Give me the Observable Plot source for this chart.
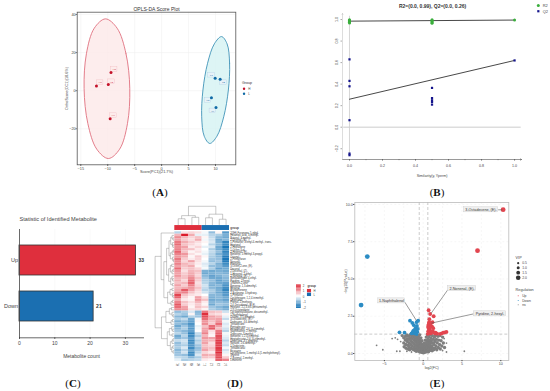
<!DOCTYPE html>
<html><head><meta charset="utf-8">
<script src="https://cdn.jsdelivr.net/npm/d3@7"></script>
<script src="https://cdn.jsdelivr.net/npm/@observablehq/plot@0.6"></script>
<style>
html,body{margin:0;padding:0;background:#fff;}
#fig{position:relative;width:550px;height:391px;overflow:hidden;font-family:"Liberation Sans",sans-serif;}
#fig svg{position:absolute;overflow:visible;}
.cap{position:absolute;font:11px "Liberation Serif",serif;transform:translate(-50%,-50%);color:#111;white-space:nowrap;}
.cap b{font-weight:700;}
</style></head><body><div id="fig"></div>
<script>
// ---------- Panel A: OPLS-DA ----------
const scoreH = [[-12.1,2.5,"H1"],[-9.9,3.2,"H2"],[-9.4,9.5,"H3"],[-9.55,-14.7,"H4"]];
const scoreL = [[9.94,6.5,"L1"],[10.87,6,"L2"],[9.25,-3.7,"L3"],[10.1,-8.8,"L4"]];
const labelPosH = [[-11.4,4.2],[-9.3,4.7],[-8.8,11.1],[-8.95,-13.1]];
const labelPosL = [[9.25,8.1],[11.5,4.2],[8.6,-5.1],[9.5,-10.6]];
const ellipseH = [[-5.91,1.05],[-6.61,19.4],[-8.26,32.8],[-10.42,37.7],[-12.5,32.8],[-13.96,19.4],[-14.39,1.05],[-13.69,-17.3],[-12.04,-30.7],[-9.88,-35.6],[-7.8,-30.7],[-6.34,-17.3]];
const ellipseL = [[12.39,0.35],[12.62,14.4],[12.15,24.6],[11.12,28.4],[9.79,24.6],[8.53,14.4],[7.67,0.35],[7.44,-13.7],[7.91,-23.9],[8.94,-27.7],[10.27,-23.9],[11.53,-13.7]];

// ---------- Panel B: permutation ----------
const r2Points = [[0,0.998],[0,0.992],[0,0.988],[0,0.982],[0,0.975],[0,0.968],[0.5,0.998],[0.5,0.99],[0.5,0.982],[0.5,0.972],[0.5,0.965],[1,0.995]];
const q2Points = [[0,0.63],[0,0.43],[0,0.38],[0,0.065],[0,-0.245],[0,-0.26],[0.5,0.365],[0.5,0.27],[0.5,0.25],[0.5,0.235],[0.5,0.21],[1,0.62]];
const r2Line = [[0,0.985],[1,0.995]];
const q2Line = [[0,0.26],[1,0.62]];

// ---------- Panel C: counts ----------
const regLabels = ["Up","Down"];
const regCounts = [33,21];

// ---------- Panel D: heatmap ----------
const heatCols = ["H1","H2","H3","H4","L1","L2","L3","L4"];
const heatNames = ["2(3H)-Furanone, 5-ethyl-","Hexanoic acid, 3-methyl-","Butanal, 3-methyl-","2-Octenal, (E)-","1-Pentanol, 3-ethyl-4-methyl-, trans-","Heptanal","2-Heptanone","1-Octen-3-ol","2-Hexenal, (E)-","Benzene, 1-methyl-3-propyl-","Octanal","2-Pentylfuran","Nonanal","Pentanal","3-Octen-2-one, (E)-","Decanal","2-Decenal, (Z)-","1-Hexanol, 2-ethyl-","2-Nonenal, (E)-","Benzaldehyde, 4-ethyl-","Pyridine, 2-hexyl-","3-Nonen-2-one","Benzene, 1,3-dimethyl-","Hexanal","Acetophenone","2-Butanone, 3-hydroxy-","1-Pentanol","Cyclohexane, 1,2,4-trimethyl-","Undecanal","Phenol, 2-methoxy-","2,4-Decadienal, (E,E)-","Heptane, 2,2,4,6,6-pentamethyl-","2,3-Octanedione","Cyclopentasiloxane, decamethyl-","1-Naphthalenol","Octane, 3,5-dimethyl-","3-Octadecene, (E)-","Dodecane, 4,6-dimethyl-","Tetradecane","Pentadecane","Hexadecane, 2,6,11-trimethyl-","Naphthalene, 2-methyl-","Tridecane, 3-methyl-","Benzene, 1,2,4-trimethyl-","Heptadecane, 2,6,10-trimethyl-","Undecane, 3,7-dimethyl-","Nonane, 2,6-dimethyl-","1-Dodecene","Tetradecanal","Eicosane","Cyclohexene, 1-methyl-4-(1-methylethenyl)-","Styrene","2-Butenal, 2-methyl-","Limonene"];
const heatValues = [
[-0.6,0.3,0.4,0.3,-0.1,-0.9,0.1,-1.4],
[0.7,2.2,0.8,-0.2,-0.2,-0.6,-0.7,-1.1],
[1.1,0.7,0.4,0.6,0.1,-0.5,-1.0,-1.2],
[0.9,0.5,0.3,0.8,-0.1,-0.4,-1.2,-1.0],
[1.3,0.8,0.5,0.3,0.1,-0.3,-1.1,-1.7],
[1.4,0.6,0.4,0.2,0.0,-0.6,-1.0,-1.6],
[1.1,0.9,0.2,0.4,-0.2,-0.3,-1.2,-1.9],
[1.2,0.7,0.6,0.2,0.0,-0.7,-1.2,-1.6],
[1.5,0.6,0.1,0.3,-0.1,-0.5,-0.9,-1.7],
[1.2,1.0,0.3,0.1,-0.2,-0.6,-1.1,-1.5],
[1.0,0.8,0.1,0.5,0.1,-0.7,-1.0,-1.8],
[1.3,0.5,0.2,0.4,0.0,-0.8,-0.9,-1.9],
[1.1,0.4,0.9,0.3,-0.1,-0.9,-0.8,-1.8],
[1.2,0.7,0.5,0.2,-0.3,-0.6,-1.1,-1.6],
[0.9,0.6,0.8,0.1,-0.2,-0.9,-1.0,-1.4],
[1.4,0.5,0.6,0.4,-0.1,-0.7,-1.3,-1.2],
[1.0,0.3,0.7,0.6,-1.1,-1.2,-1.1,-1.2],
[0.9,0.5,0.8,0.5,-1.2,-1.1,-1.0,-1.1],
[1.0,0.6,0.9,0.4,-1.0,-1.3,-1.1,-0.9],
[0.7,0.6,1.1,0.6,-0.8,-1.2,-1.2,-1.0],
[0.8,0.4,1.4,0.5,-0.7,-0.9,-1.3,-1.1],
[0.6,0.7,1.5,0.3,-0.6,-1.0,-1.2,-1.3],
[0.9,0.5,1.2,0.4,-0.4,-1.1,-1.0,-1.5],
[0.7,0.8,1.0,0.6,-0.5,-1.0,-1.2,-1.6],
[0.8,1.6,0.9,0.4,-0.6,-0.7,-1.1,-1.7],
[1.1,1.2,0.6,0.3,-0.4,-0.8,-1.2,-1.5],
[1.8,0.6,0.3,0.2,0.0,-1.0,-1.0,-1.4],
[1.5,0.4,0.1,0.9,0.3,-1.1,-1.0,-1.2],
[0.8,0.2,0.1,1.0,0.6,-1.2,-1.1,-1.3],
[1.2,0.6,0.3,0.7,0.2,-1.0,-0.9,-1.0],
[1.6,0.5,0.2,0.5,0.1,-1.2,-0.8,-0.9],
[1.4,0.9,0.1,0.6,0.4,-0.8,-1.0,-1.2],
[1.1,1.0,0.3,0.4,0.1,-0.7,-0.9,-1.1],
[-0.9,-0.7,-0.3,-1.0,1.3,0.6,0.5,-0.4],
[-0.6,-0.8,0.1,-0.9,2.0,0.4,0.3,0.1],
[-1.0,-1.2,-0.6,-0.8,1.7,0.9,0.7,-0.2],
[-0.7,-0.5,-1.2,-0.1,1.4,0.8,0.9,-0.5],
[-1.1,-0.9,-1.3,0.1,1.0,0.6,1.0,-0.1],
[-0.9,-1.1,-1.5,0.0,1.1,0.5,1.4,-0.3],
[-1.2,-0.8,-1.3,-0.2,0.6,1.4,0.9,-0.2],
[-1.0,-0.7,-1.4,-0.1,0.9,1.6,0.6,-0.4],
[-0.8,-1.0,-1.3,0.0,0.9,0.3,1.3,-0.6],
[-0.6,-0.9,-1.7,-0.5,1.2,0.2,1.5,-0.1],
[-1.2,-0.6,-1.6,-0.7,0.7,0.1,1.7,-0.2],
[-1.0,-0.8,-1.3,-0.4,1.0,0.9,1.6,-0.3],
[-0.5,-0.4,-1.6,-0.7,0.8,0.7,1.9,-0.6],
[-0.9,-0.5,-1.5,-0.5,0.9,0.3,1.8,-0.3],
[-0.8,-0.7,-1.4,-0.8,0.6,0.4,1.8,-0.5],
[-0.7,-0.3,-1.6,-0.9,0.7,0.6,1.9,-0.1],
[-1.0,-0.6,-1.2,-0.8,0.9,0.5,1.8,-0.4],
[-0.9,-0.4,-1.6,-0.6,0.4,0.2,2.0,-0.2],
[-0.8,-0.9,-1.5,-0.3,0.8,0.7,1.6,0.1],
[-0.5,-0.6,-1.0,-0.7,0.6,0.5,1.7,0.5],
[-0.2,-0.7,-0.6,-0.5,0.2,0.1,1.5,1.2]];
// nested dendrogram: [height, childA, childB]; 1 = a leaf
const L = 1;
const leftTree = [2.78,
  [1.9, L,
    [1.5,
      [1.1,
        [0.75, [0.5,[0.3,L,[0.15,L,L]],[0.25,L,[0.18,L,L]]], [0.55,[0.28,[0.12,L,L],L],[0.22,L,[0.1,L,L]]]],
        [0.8, [0.55,[0.35,L,L],[0.3,[0.15,L,L],L]], [0.5,[0.3,L,[0.2,L,L]],[0.25,L,L]]]],
      [0.95, [0.6,[0.3,L,L],[0.25,L,[0.15,L,L]]], [0.45,[0.25,L,L],L]]]],
  [1.85,
    [1.2, [0.7,[0.4,L,L],[0.3,L,[0.15,L,L]]], [0.45,[0.25,L,L],L]],
    [1.0, [0.7,[0.35,L,[0.2,L,L]],[0.3,L,L]], [0.55,[0.3,[0.15,L,L],L],[0.35,[0.2,L,L],[0.15,L,L]]]]]];
const topTree = [7.8, [3.9,[2.6,L,L],[3.2,L,L]], [4.5,[3,L,L],[2.4,L,L]]];
const rampValues = [2,1.75,1.5,1.25,1,0.75,0.5,0.25,0,-0.25,-0.5,-0.75,-1,-1.25,-1.5,-1.75,-2];
const rampLabels = [2,1,0,-1,-2];
const groupLegend = ["H","L"];

// ---------- Panel E: volcano ----------
const upPoints = [[0.7,2.9],[0.9,2.65],[1.35,2.5],[0.8,2.3],[0.75,2.1],[1.2,2.1],[1.0,2.05],[0.7,1.95],[0.95,1.9],[0.65,1.85],[1.15,1.8],[0.65,1.75],[0.8,1.7],[1.3,1.7],[0.75,1.6],[0.9,1.55],[0.65,1.5],[1.25,1.5],[1.1,1.45],[0.85,1.4],[1.0,1.35],[0.7,1.35],[1.6,1.4],[1.5,1.35],[2.2,1.32],[2.4,1.35],[2.6,1.4],[2.8,1.42],[3.0,1.45],[1.8,1.33],[0.6,1.32]];
const upBig = [[10.3,9.65],[7,6.9]];
const downPoints = [[-3.05,1.42],[-2.4,1.4],[-1.7,2.2],[-1.4,2.05],[-1.2,1.9],[-0.85,2.1],[-0.8,1.85],[-1.0,1.7],[-1.2,1.55],[-0.9,1.6],[-1.35,1.4],[-1.1,1.35],[-0.75,1.45],[-0.65,2.2],[-1.0,1.45],[-0.85,1.3],[-1.5,1.35],[-1.3,1.5],[-0.7,1.65]];
const downBig = [[-8,3.25],[-7.2,6.5]];
const nsOutliers = [[-6,0.55],[-5.2,0.25],[-4,1],[-3.6,1.05],[-3.3,0.95],[-3.4,0.15],[-3,0.15],[-2.9,0.8],[-2.1,0.15],[-1.5,0.1],[2.5,0.2],[3,0.1],[5.3,0.15],[3.0,0.7],[2.7,1.0]];
const nsPoints = [[-2.7,1.2],[-2.5,1.05],[-2.5,0.7],[-2.45,0.45],[-2.3,1.15],[-2.3,0.9],[-2.25,0.6],[-2.2,0.35],[-2.1,1.25],[-2.1,1.0],[-2.05,0.8],[-2,0.55],[-1.95,0.3],[-1.9,1.15],[-1.85,0.95],[-1.8,0.7],[-1.8,0.45],[-1.75,0.25],[-1.7,1.25],[-1.65,1.05],[-1.6,0.85],[-1.6,0.6],[-1.55,0.35],[-1.5,1.2],[-1.45,1.0],[-1.4,0.75],[-1.4,0.5],[-1.35,0.28],[-1.3,1.25],[-1.25,1.1],[-1.2,0.9],[-1.2,0.65],[-1.15,0.4],[-1.1,0.22],[-1.1,1.18],[-1.05,1.0],[-1.0,0.8],[-1.0,0.55],[-0.95,0.32],[-0.9,1.22],[-0.9,0.15],[-0.85,1.05],[-0.85,0.7],[-0.8,0.45],[-0.8,0.9],[-0.75,1.2],[-0.75,0.25],[-0.7,1.0],[-0.7,0.6],[-0.65,0.8],[-0.65,0.35],[-0.6,1.1],[-0.6,0.15],[-0.55,0.5],[-0.55,0.95],[-0.5,0.7],[-0.5,0.25],[-0.45,1.25],[-0.45,0.4],[-0.4,0.85],[-0.4,0.1],[-0.38,0.55],[-0.35,0.25],[-0.3,1.05],[-0.3,0.7],[-0.28,0.4],[-0.25,0.12],[-0.22,0.55],[-0.2,0.28],[-0.15,0.85],[-0.15,0.08],[-0.12,0.42],[-0.1,0.2],[-0.05,0.6],[-0.05,0.06],[0,0.3],[0,0.12],[0.03,0.48],[0.05,0.05],[0.08,0.22],[0.1,0.38],[0.12,0.08],[0.15,0.7],[0.18,0.15],[0.2,0.3],[0.22,0.52],[0.25,0.1],[0.28,0.9],[0.3,0.22],[0.32,0.4],[0.35,0.65],[0.38,0.12],[0.4,1.1],[0.42,0.3],[0.45,0.5],[0.48,0.8],[0.5,0.18],[0.52,0.38],[0.55,1.25],[0.58,0.6],[0.6,0.95],[0.62,0.25],[0.65,0.45],[0.68,0.12],[0.7,0.75],[0.72,1.1],[0.75,0.32],[0.8,0.55],[0.82,0.9],[0.85,0.2],[0.9,1.25],[0.92,0.42],[0.95,0.68],[1.0,1.05],[1.02,0.28],[1.05,0.85],[1.1,0.5],[1.15,0.18],[1.18,1.2],[1.2,0.7],[1.25,0.38],[1.3,0.95],[1.35,0.25],[1.4,0.6],[1.45,1.1],[1.5,0.8],[1.55,0.35],[1.6,1.22],[1.65,0.5],[1.7,0.95],[1.75,0.25],[1.8,0.72],[1.9,1.15],[1.95,0.4],[2.0,0.9],[2.1,0.6],[2.15,1.2],[2.2,0.3],[2.3,0.85],[2.4,0.5],[2.5,1.1],[2.6,0.7],[2.75,0.4]];
const calloutBoxes = [[5.24,9.66,9.64,"3-Octadecene, (E)-"],[3.18,6.82,4.36,"2-Nonenal, (E)-"],[-5.79,-2.36,3.53,"1-Naphthalenol"],[6.52,10.69,2.66,"Pyridine, 2-hexyl-"]];
const calloutLinks = [[9.66,9.64,10.2,9.64],[3.18,4.28,1.03,2.7],[-2.36,3.44,-0.86,2.2],[6.52,2.66,1.07,2.04]];
const vipLegend = [[0.5,6.06,1.1],[1.0,5.75,1.5],[1.5,5.42,1.9],[2.0,5.08,2.3]];
const regLegend = [["Up",3.87,"#e2454f"],["Down",3.56,"#2b8cc4"],["ns",3.27,"#7f7f7f"]];

// ---------- helpers ----------
const FF = '"Liberation Sans",sans-serif';
const RED = "#df2f3d", BLUE = "#1b6fb1";
const fig = document.getElementById("fig");
function panel(box, frame, opts){
  const svg = Plot.plot({
    width: box[2], height: box[3],
    marginLeft: frame[0]-box[0], marginTop: frame[1]-box[1],
    marginRight: box[0]+box[2]-frame[2], marginBottom: box[1]+box[3]-frame[3],
    style:{fontFamily:FF, background:"transparent", color:"#444"},
    ...opts
  });
  svg.style.left = box[0]+"px"; svg.style.top = box[1]+"px";
  fig.appendChild(svg);
}
function caption(s,x,y){
  const d=document.createElement("div"); d.className="cap"; d.style.left=x+"px"; d.style.top=y+"px";
  d.innerHTML="("+"<b>"+s+"</b>"+")"; fig.appendChild(d);
}
const fmt1 = d3.format(".1f");

// ---------- Panel A ----------
panel([60,0,218,178],[76.7,11.7,235.3,164.3],{
  x:{domain:[-15.67,13.77]}, y:{domain:[-38.9,41.2]},
  marks:[
    Plot.gridX([-15,-10,-5,0,5,10],{stroke:"#eee",strokeOpacity:1,strokeWidth:.5}),
    Plot.gridY([-20,0,20,40],{stroke:"#eee",strokeOpacity:1,strokeWidth:.5}),
    Plot.line(ellipseH,{x:"0",y:"1",curve:"catmull-rom-closed",fill:"#fde8e8",fillOpacity:.8,stroke:"#e0707f",strokeWidth:.9}),
    Plot.line(ellipseL,{x:"0",y:"1",curve:"catmull-rom-closed",fill:"#d4f3f3",fillOpacity:.8,stroke:"#3f93b8",strokeWidth:.9}),
    Plot.frame({stroke:"#555",strokeWidth:.8}),
    Plot.axisX([-15,-10,-5,0,5,10],{fontSize:3.8,tickSize:1.5,tickPadding:.8,label:"Score(PC1)(21.7%)",labelAnchor:"center",labelOffset:8,labelArrow:"none"}),
    Plot.axisY([-20,0,20,40],{fontSize:3.8,tickSize:1,tickPadding:.5,label:"OrthoScore(OC1)(18.6%)",labelAnchor:"center",labelOffset:12,labelArrow:"none"}),
    Plot.rect(labelPosH,{x1:d=>d[0]-.6,x2:d=>d[0]+.6,y1:d=>d[1]-1.2,y2:d=>d[1]+1.2,fill:"#fdecec",stroke:"#f0b0b5",strokeWidth:.3}),
    Plot.rect(labelPosL,{x1:d=>d[0]-.6,x2:d=>d[0]+.6,y1:d=>d[1]-1.2,y2:d=>d[1]+1.2,fill:"#e6f2f8",stroke:"#a8c8e0",strokeWidth:.3}),
    Plot.text(labelPosH,{x:"0",y:"1",text:(d,i)=>scoreH[i][2],fontSize:2.4,fill:"#c33"}),
    Plot.text(labelPosL,{x:"0",y:"1",text:(d,i)=>scoreL[i][2],fontSize:2.4,fill:"#269"}),
    Plot.dot(scoreH,{x:"0",y:"1",r:1.5,fill:"#c4122a"}),
    Plot.dot(scoreL,{x:"0",y:"1",r:1.5,fill:"#0f6aa6"}),
    Plot.text(["OPLS-DA Score Plot"],{frameAnchor:"top",dy:-5,fontSize:5,fill:"#333"}),
    Plot.text(["Group"],{x:14.9,y:3.9,fontSize:3.6,textAnchor:"start",fill:"#333"}),
    Plot.dot(["H"],{x:15.3,y:1.05,r:1.2,fill:"#c4122a"}),
    Plot.dot(["L"],{x:15.3,y:-1.6,r:1.2,fill:"#0f6aa6"}),
    Plot.text(["H"],{x:16.1,y:1.05,fontSize:3,textAnchor:"start"}),
    Plot.text(["L"],{x:16.1,y:-1.6,fontSize:3,textAnchor:"start"})
  ]
});

// ---------- Panel B ----------
panel([330,0,220,182],[342,13,521,159],{
  x:{domain:[-0.0424,1.042]}, y:{domain:[-0.3,1.056]},
  marks:[
    Plot.ruleY([0],{x1:-0.035,x2:1.04,stroke:"#ddd",strokeWidth:1.5}),
    Plot.ruleX([0],{y1:-0.27,y2:1.03,stroke:"#ccc",strokeWidth:.8}),
    Plot.arrow([0],{x1:-0.0424,x2:1.042,y1:-0.3,y2:-0.3,stroke:"#555",strokeWidth:.6,headLength:3,bend:0}),
    Plot.arrow([0],{x1:-0.0424,x2:-0.0424,y1:-0.3,y2:1.056,stroke:"#bbb",strokeWidth:.5,headLength:3,bend:0}),
    Plot.line(r2Line,{x:"0",y:"1",stroke:"#333",strokeWidth:.9}),
    Plot.line(q2Line,{x:"0",y:"1",stroke:"#333",strokeWidth:.9}),
    Plot.dot(q2Points,{x:"0",y:"1",symbol:"square",r:1.25,fill:"#14148c"}),
    Plot.dot(r2Points,{x:"0",y:"1",r:1.5,fill:"#3aae3c"}),
    Plot.axisX([0,0.1,0.2,0.3,0.4,0.5,0.6,0.7,0.8,0.9,1],{fill:"none",tickSize:1.2,label:null,stroke:"#555",strokeWidth:.5}),
    Plot.axisX([0,0.2,0.4,0.6,0.8,1],{fontSize:3.6,tickSize:1.8,tickPadding:3,tickFormat:fmt1,label:"Similarity(y, Yperm)",labelAnchor:"center",labelOffset:17,labelArrow:"none",stroke:"#555",strokeWidth:.5}),
    Plot.axisY([-0.2,0,0.2,0.4,0.6,0.8,1],{fontSize:3.6,tickSize:1.5,tickPadding:3,tickRotate:-90,tickFormat:fmt1,label:null,stroke:"#555",strokeWidth:.5}),
    Plot.text(["R2=(0.0, 0.99), Q2=(0.0, 0.26)"],{x:0.503,y:1.121,fontSize:5,fontWeight:700,fill:"#333"}),
    Plot.dot(["R2"],{x:1.144,y:1.13,r:1.5,fill:"#3aae3c"}),
    Plot.dot(["Q2"],{x:1.144,y:1.077,symbol:"square",r:1.25,fill:"#14148c"}),
    Plot.text(["R2"],{x:1.17,y:1.13,fontSize:4,textAnchor:"start"}),
    Plot.text(["Q2"],{x:1.17,y:1.077,fontSize:4,textAnchor:"start"})
  ]
});

// ---------- Panel C ----------
panel([0,205,155,165],[19,229,143,337.3],{
  x:{domain:[0,35.13]}, y:{domain:regLabels,padding:.34},
  marks:[
    Plot.gridX([10,20,30],{stroke:"#f2f2f2",strokeOpacity:1,strokeWidth:.5}),
    Plot.barX(regLabels,{x:(d,i)=>regCounts[i],y:d=>d,fill:(d,i)=>i?BLUE:RED,stroke:"#333",strokeWidth:.8}),
    Plot.text(regLabels,{x:(d,i)=>regCounts[i],y:d=>d,text:(d,i)=>String(regCounts[i]),dx:2.5,textAnchor:"start",fontSize:5,fontWeight:700,fill:"#333"}),
    Plot.frame({anchor:"left",stroke:"#444",strokeWidth:.8}),
    Plot.frame({anchor:"bottom",stroke:"#444",strokeWidth:.8}),
    Plot.axisX([0,10,20,30],{fontSize:5,tickSize:1.5,tickPadding:2,label:"Metabolite count",labelAnchor:"center",labelOffset:20,labelArrow:"none"}),
    Plot.axisY(regLabels,{fontSize:5.5,tickSize:0,tickPadding:1.5,label:null}),
    Plot.text(["Statistic of Identified Metabolite"],{frameAnchor:"top-left",dy:-12,textAnchor:"start",fontSize:5.6,fill:"#444"})
  ]
});

// ---------- Panel D ----------
function tree(node,start,segs){
  if(node===1) return {pos:start+.5,h:0,next:start+1};
  const a=tree(node[1],start,segs), b=tree(node[2],a.next,segs);
  segs.push({p1:a.pos,p2:a.pos,h1:node[0],h2:a.h},{p1:b.pos,p2:b.pos,h1:node[0],h2:b.h},{p1:a.pos,p2:b.pos,h1:node[0],h2:node[0]});
  return {pos:(a.pos+b.pos)/2,h:node[0],next:b.next};
}
const leftSegs=[], topSegs=[];
tree(leftTree,0,leftSegs); tree(topTree,0,topSegs);
const cells = heatValues.flatMap((row,r)=>row.map((v,c)=>({r,c,v})));
panel([150,198,192,172],[174.3,231.3,229,361],{
  x:{domain:[0,8],axis:null}, y:{domain:[0,54],reverse:true,axis:null},
  color:{type:"linear",domain:[-2,0,2],range:["#0f6fb3","#ffffff","#df2f3d"]},
  marks:[
    Plot.link(leftSegs,{x1:d=>-d.h1-.1,x2:d=>-d.h2-.1,y1:"p1",y2:"p2",stroke:"#777",strokeWidth:.4}),
    Plot.link(topSegs,{x1:"p1",x2:"p2",y1:d=>-2.83-d.h1,y2:d=>-2.83-d.h2,stroke:"#777",strokeWidth:.4}),
    Plot.rect(groupLegend,{x1:(d,i)=>i*4,x2:(d,i)=>i*4+4,y1:()=>-2.6,y2:()=>-.55,fill:(d,i)=>i?BLUE:RED}),
    Plot.text(["group"],{x:8.12,y:-1.6,fontSize:3,fontWeight:700,textAnchor:"start"}),
    Plot.rect(cells,{x1:"c",x2:d=>d.c+1,y1:"r",y2:d=>d.r+1,fill:"v"}),
    Plot.text(heatNames,{x:8.1,y:(d,i)=>i+.5,text:d=>d,fontSize:2.6,textAnchor:"start",fill:"#333"}),
    Plot.text(heatCols,{x:(d,i)=>i+.5,y:55.3,text:d=>d,fontSize:2.6,rotate:-90,fill:"#333"}),
    Plot.rect(rampValues,{x1:17.8,x2:18.5,y1:d=>27-d*2.3-.3,y2:d=>27-d*2.3+.3,fill:d=>d}),
    Plot.text(rampLabels,{x:18.7,y:d=>27-d*2.3,text:d=>d<0?"−"+(-d):String(d),fontSize:2.8,textAnchor:"start"}),
    Plot.text(["group"],{x:19.4,y:22.7,fontSize:3,fontWeight:700,textAnchor:"start"}),
    Plot.rect(groupLegend,{x1:19.4,x2:20,y1:(d,i)=>24+i*1.55,y2:(d,i)=>25.4+i*1.55,fill:(d,i)=>i?BLUE:RED}),
    Plot.text(groupLegend,{x:20.3,y:(d,i)=>24.7+i*1.55,text:d=>d,fontSize:2.8,textAnchor:"start"})
  ]
});

// ---------- Panel E ----------
panel([342,196,208,176],[354.3,202,508.3,360],{
  x:{domain:[-8.81,11.03]}, y:{domain:[-0.47,10.13]}, r:{type:"identity"},
  marks:[
    Plot.gridX([-7.5,-5,-2.5,0,2.5,5,7.5,10],{stroke:"#ececec",strokeOpacity:1,strokeWidth:.4,strokeDasharray:"2,2"}),
    Plot.gridY([0,2.5,5,7.5,10],{stroke:"#ececec",strokeOpacity:1,strokeWidth:.4,strokeDasharray:"2,2"}),
    Plot.ruleX([-0.51,0.6],{stroke:"#aaa",strokeWidth:.6,strokeDasharray:"3,2"}),
    Plot.ruleY([1.3],{stroke:"#aaa",strokeWidth:.6,strokeDasharray:"3,2"}),
    Plot.dot(nsOutliers,{x:"0",y:"1",r:.9,fill:"#7f7f7f"}),
    Plot.dot(nsPoints,{x:"0",y:"1",r:1.7,fill:"#7f7f7f"}),
    Plot.dot(downPoints,{x:"0",y:"1",r:1.9,fill:"#2b8cc4"}),
    Plot.dot(upPoints,{x:"0",y:"1",r:1.9,fill:"#e2454f"}),
    Plot.dot(downBig,{x:"0",y:"1",r:2.4,fill:"#2b8cc4"}),
    Plot.dot(upBig,{x:"0",y:"1",r:2.4,fill:"#e2454f"}),
    Plot.link(calloutLinks,{x1:"0",y1:"1",x2:"2",y2:"3",stroke:"#555",strokeWidth:.6}),
    Plot.rect(calloutBoxes,{x1:"0",x2:"1",y1:d=>d[2]-.17,y2:d=>d[2]+.17,fill:"#efefef",stroke:"#ccc",strokeWidth:.4}),
    Plot.text(calloutBoxes,{x:d=>(d[0]+d[1])/2,y:"2",text:"3",fontSize:3.7,fill:"#333"}),
    Plot.frame({stroke:"#bbb",strokeWidth:.8}),
    Plot.axisX([-5,0,5,10],{fontSize:3.6,tickSize:1.2,tickPadding:1,label:"log2(FC)",labelAnchor:"center",labelOffset:8,labelArrow:"none",fill:"#444"}),
    Plot.axisY([0,2.5,5,7.5,10],{fontSize:3.6,tickSize:1.2,tickPadding:.8,tickFormat:fmt1,label:"−log10(Pvalue)",labelAnchor:"center",labelOffset:10,labelArrow:"none",fill:"#444"}),
    Plot.text(["VIP"],{x:11.9,y:6.44,fontSize:3.8,textAnchor:"start"}),
    Plot.dot(vipLegend,{x:12.24,y:"1",r:"2",fill:"#333"}),
    Plot.text(vipLegend,{x:12.75,y:"1",text:d=>fmt1(d[0]),fontSize:3.4,textAnchor:"start"}),
    Plot.text(["Regulation"],{x:11.9,y:4.28,fontSize:3.8,textAnchor:"start"}),
    Plot.dot(regLegend,{x:12.24,y:"1",r:.5,fill:"2"}),
    Plot.text(regLegend,{x:12.75,y:"1",text:"0",fontSize:3.4,textAnchor:"start"})
  ]
});

caption("A",160,191.5); caption("B",437,191.5); caption("C",73,383); caption("D",235,383); caption("E",437,383);
</script></body></html>
